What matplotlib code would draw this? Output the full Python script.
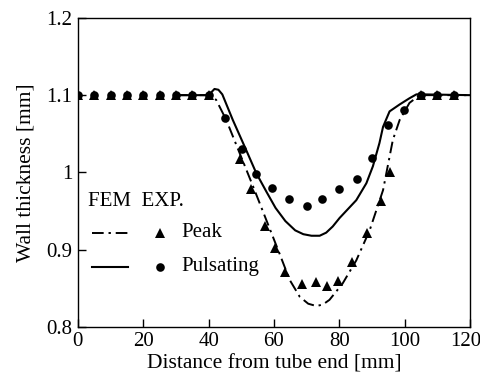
import numpy as np
import matplotlib.pyplot as plt
import matplotlib.transforms as mtransforms
from matplotlib.lines import Line2D

plt.rcParams['font.family'] = ['Liberation Serif', 'DejaVu Serif']
plt.rcParams['font.size'] = 15

# experimental points (mm, mm)
exp_x = [0, 5, 10, 15, 20, 25, 30, 35, 40]
exp_flat = [1.1] * len(exp_x)

peak_x = exp_x + [49.7, 53.1, 57.4, 60.2, 63.5, 68.5, 72.8, 76.2, 79.6, 83.9, 88.5, 92.7, 95.4, 105, 110, 115]
peak_y = exp_flat + [1.017, 0.979, 0.931, 0.902, 0.871, 0.856, 0.858, 0.853, 0.860, 0.884, 0.921, 0.963, 1.000, 1.1, 1.1, 1.1]

puls_x = exp_x + [45.0, 50.2, 54.4, 59.5, 64.6, 70.1, 74.8, 80.0, 85.5, 90.1, 94.8, 99.9, 105, 110, 115]
puls_y = exp_flat + [1.070, 1.030, 0.998, 0.980, 0.966, 0.956, 0.966, 0.978, 0.992, 1.018, 1.061, 1.081, 1.1, 1.1, 1.1]

# FEM curves
fem_peak_x = [30, 40, 42.3, 45.4, 49.5, 53.6, 57.7, 61.7, 64.8, 67.9, 70.5, 73, 75, 77, 81, 85.2, 89.3, 93.4, 96.4, 98.5, 101.5, 104.6, 120]
fem_peak_y = [1.1, 1.1, 1.094, 1.068, 1.025, 0.982, 0.938, 0.895, 0.861, 0.839, 0.830, 0.827, 0.829, 0.835, 0.856, 0.886, 0.925, 0.977, 1.042, 1.068, 1.090, 1.1, 1.1]

fem_puls_x = [30, 40, 41.8, 43.0, 44.2, 47.4, 51.5, 54.6, 57.7, 60.5, 63.5, 66.5, 69.0, 71.5, 74.0, 76.0, 78.0, 80.1, 85.2, 88.3, 90.3, 92.3, 93.4, 95.4, 98.5, 101.5, 103.6, 105.6, 120]
fem_puls_y = [1.1, 1.1, 1.108, 1.107, 1.101, 1.068, 1.029, 0.999, 0.975, 0.954, 0.937, 0.925, 0.920, 0.918, 0.918, 0.922, 0.930, 0.941, 0.964, 0.986, 1.008, 1.038, 1.059, 1.079, 1.088, 1.096, 1.101, 1.101, 1.1]

xticks = [0, 20, 40, 60, 80, 100, 120]
yticks = [0.8, 0.9, 1.0, 1.1, 1.2]
ytick_labels = ['0.8', '0.9', '1', '1.1', '1.2']

dashdot = (0, (6, 2.5, 1.2, 2.5))

fig = plt.figure(figsize=(4.81, 3.81), dpi=100)
ax = fig.add_axes([0.162, 0.142, 0.815, 0.811])

ax.plot(fem_peak_x, fem_peak_y, color='black', lw=1.4, linestyle=dashdot)
ax.plot(fem_puls_x, fem_puls_y, color='black', lw=1.5)
ax.plot(peak_x, peak_y, '^', color='black', ms=6.5, mew=0)
ax.plot(puls_x, puls_y, 'o', color='black', ms=6.2, mew=0)

ax.set_xlim(0, 120)
ax.set_ylim(0.8, 1.2)
ax.set_xticks(xticks)
ax.set_yticks(yticks)
ax.set_yticklabels(ytick_labels)
ax.tick_params(direction='in', length=6, width=1, top=False, right=False, pad=4)
for s in ax.spines.values():
    s.set_linewidth(1)
ax.set_xlabel('Distance from tube end [mm]', labelpad=2, fontsize=15.5)
ax.set_ylabel('Wall thickness [mm]', labelpad=8, fontsize=15.5)

# keep the last x label inside the canvas
last = ax.get_xticklabels()[-1]
last.set_transform(last.get_transform() + mtransforms.ScaledTranslation(-4 / 100, 0, fig.dpi_scale_trans))

# hand-made legend
tr = ax.transAxes
ax.text(0.026, 0.405, 'FEM  EXP.', transform=tr, ha='left', va='center', fontsize=15)
ax.add_line(Line2D([0.036, 0.128], [0.304, 0.304], transform=tr, color='black', lw=1.4, linestyle=dashdot))
ax.add_line(Line2D([0.036, 0.128], [0.194, 0.194], transform=tr, color='black', lw=1.5))
ax.add_line(Line2D([0.209], [0.304], transform=tr, marker='^', color='black', ms=6.5, mew=0))
ax.add_line(Line2D([0.209], [0.194], transform=tr, marker='o', color='black', ms=6.2, mew=0))
ax.text(0.265, 0.304, 'Peak', transform=tr, ha='left', va='center', fontsize=15)
ax.text(0.265, 0.194, 'Pulsating', transform=tr, ha='left', va='center', fontsize=15)

fig.savefig('out.png', dpi=100)
